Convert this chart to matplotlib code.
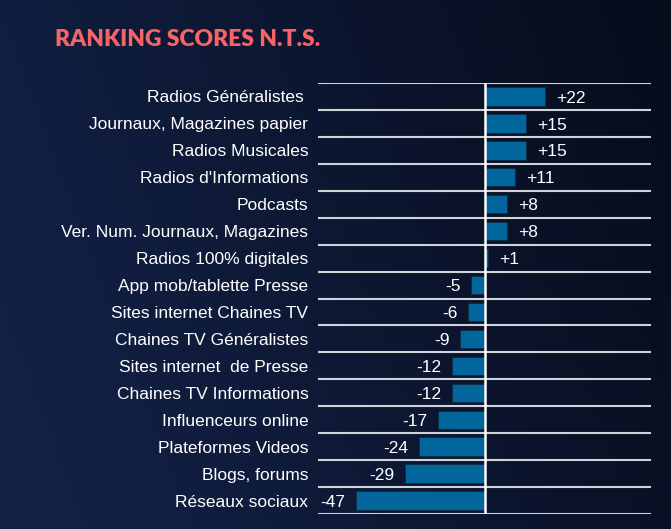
import matplotlib.pyplot as plt
import numpy as np
from matplotlib.colors import LinearSegmentedColormap

categories = ["Radios Généralistes ", "Journaux, Magazines papier", "Radios Musicales",
              "Radios d'Informations", "Podcasts", "Ver. Num. Journaux, Magazines",
              "Radios 100% digitales", "App mob/tablette Presse", "Sites internet Chaines TV",
              "Chaines TV Généralistes", "Sites internet  de Presse", "Chaines TV Informations",
              "Influenceurs online", "Plateformes Videos", "Blogs, forums", "Réseaux sociaux"]
scores = [22, 15, 15, 11, 8, 8, 1, -5, -6, -9, -12, -12, -17, -24, -29, -47]

fig = plt.figure(figsize=(6.71, 5.29), dpi=100)

# fond degrade (plus clair a gauche)
bg = fig.add_axes([0, 0, 1, 1])
xx, yy = np.meshgrid(np.linspace(0, 1, 200), np.linspace(0, 1, 200))
grad = np.clip(0.85 * xx + 0.25 * (1 - yy) - 0.1, 0, 1)
cmap = LinearSegmentedColormap.from_list("bg", ["#122146", "#070c1b"])
bg.imshow(grad, cmap=cmap, aspect="auto", extent=[0, 1, 0, 1], origin="upper")
bg.axis("off")

fig.text(55 / 671, 1 - 39 / 529, "RANKING SCORES N.T.S.", color="#f76466",
         fontsize=16.5, fontweight="heavy", family="Lato", va="center", ha="left")

left, right, top, bottom = 318 / 671, 651 / 671, 83 / 529, 514 / 529
ax = fig.add_axes([left, 1 - bottom, right - left, bottom - top])
ax.set_facecolor("none")
n = len(categories)
y = np.arange(n)
ax.barh(y, scores, height=0.68, color="#00669b", edgecolor="#0a2a45", linewidth=0.6, zorder=2)
ax.set_xlim(-60.7, 60.4)
ax.set_ylim(n - 0.5, -0.5)

for b in np.arange(-0.5, n, 1):
    ax.axhline(b, color="#d0d3da", lw=1.5, zorder=1)
ax.axvline(0, color="white", lw=1.8, zorder=3)

for i, v in enumerate(scores):
    if v > 0:
        ax.text(v + 4, i + 0.06, f"+{v}", color="white", fontsize=12.5, family="Liberation Sans",
                va="center", ha="left")
    else:
        ax.text(v - 3.8, i + 0.06, f"{v}", color="white", fontsize=12.5, family="Liberation Sans",
                va="center", ha="right")

ax.set_yticks(y)
ax.set_yticklabels(categories, color="white", fontsize=12.5, family="Liberation Sans")
ax.tick_params(axis="y", length=0, pad=7)
ax.set_xticks([])
for s in ax.spines.values():
    s.set_visible(False)

fig.savefig("out.png", dpi=100)
